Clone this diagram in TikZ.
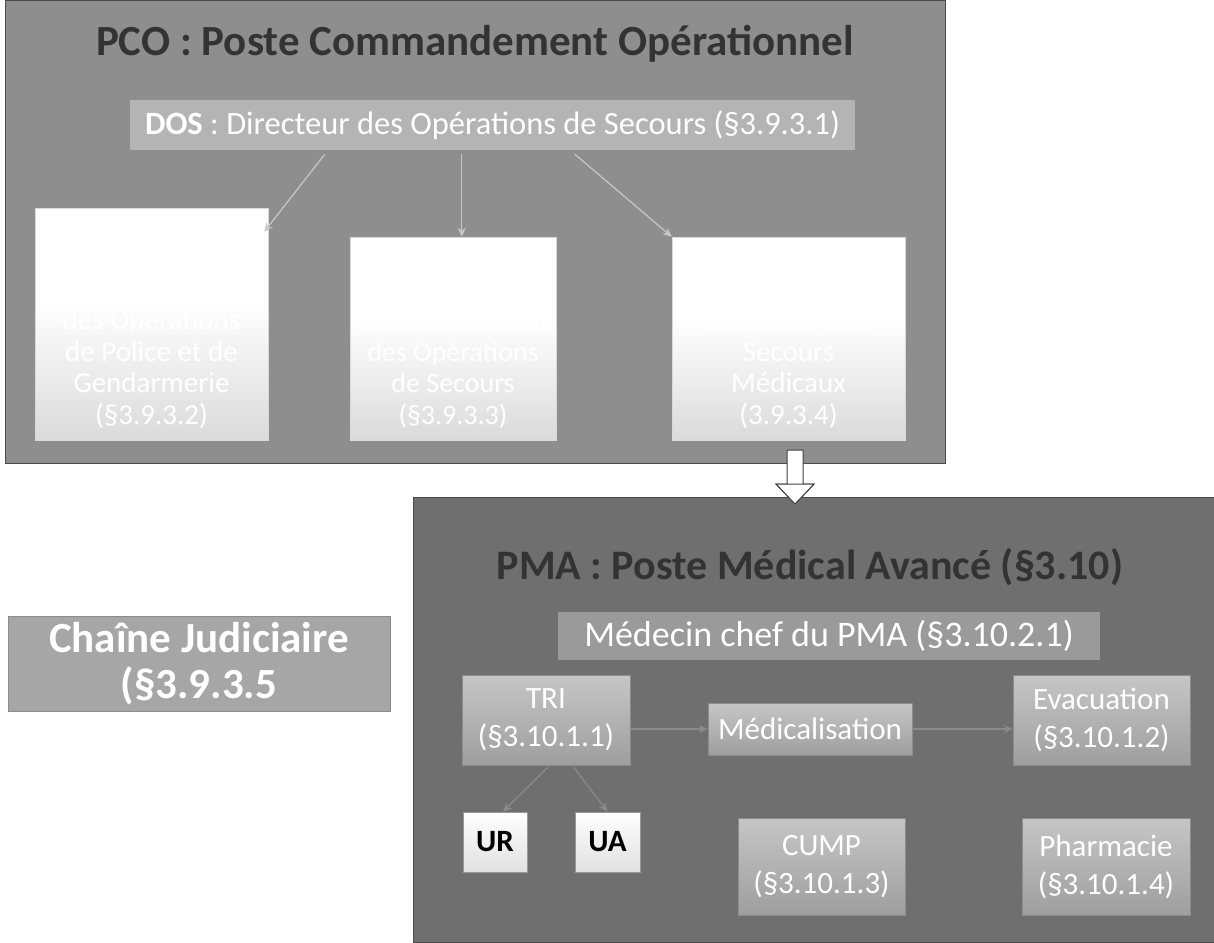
\documentclass[tikz,border=0pt]{standalone}
\usepackage{fontspec}
\setmainfont{Carlito}
\usetikzlibrary{calc,arrows.meta}
\definecolor{pcobg}{HTML}{8E8E8E}
\definecolor{pmabg}{HTML}{6F6F6F}
\definecolor{titlecol}{HTML}{333333}
\definecolor{dosbar}{HTML}{B4B4B4}
\definecolor{chefbar}{HTML}{9A9A9A}
\definecolor{subtop}{HTML}{C6C6C6}
\definecolor{subbot}{HTML}{9E9E9E}
\definecolor{whbot}{HTML}{DADADA}
\definecolor{chaine}{HTML}{A6A6A6}
\definecolor{thin}{HTML}{C8C8C8}
\definecolor{thindark}{HTML}{8A8A8A}
\pgfdeclareverticalshading{wboxshade}{100bp}{color(0bp)=(whbot); color(25bp)=(whbot); color(38bp)=(whbot!55!white); color(55bp)=(white); color(100bp)=(white)}
\newcommand{\fsz}[2]{\fontsize{#1}{#2}\selectfont}
\tikzset{
  panel/.style={rectangle, inner sep=0pt, draw=black!70, line width=0.8pt},
  bar/.style={rectangle, inner sep=0pt, text=white},
  whitebox/.style={rectangle, inner sep=0pt, shading=wboxshade, draw=white!85!black, line width=0.5pt},
  subbox/.style={rectangle, inner sep=0pt, top color=subtop, bottom color=subbot, draw=black!45, line width=0.5pt, text=white, align=center, font=\fsz{31}{38}},
  unitbox/.style={rectangle, inner sep=0pt, top color=white, bottom color=white!88!black, draw=black!40, line width=0.5pt, text=black, font=\fsz{31}{34}\bfseries},
  boxtext/.style={inner sep=0pt, text=white, align=center, font=\fsz{29}{31.5}},
  thinarrow/.style={draw=thin, line width=1.2pt, -{Stealth[length=9pt,width=8pt]}},
  darkarrow/.style={draw=thindark, line width=1.2pt, -{Stealth[length=9pt,width=8pt]}},
  title/.style={inner sep=0pt, text=titlecol, font=\fsz{43}{48}\bfseries}
}
\begin{document}
\begin{tikzpicture}[x=1pt,y=-1pt]
\useasboundingbox[fill=white] (0,0) rectangle (1214,942);

% ---------- PCO ----------
\node[panel, fill=pcobg, minimum width=940pt, minimum height=463pt] (pco) at (475.5,232) {};
\node[title] (pcotitle) at (475,44) {PCO : Poste Commandement Opérationnel};
\node[bar, fill=dosbar, minimum width=725pt, minimum height=50pt, font=\fsz{32.5}{36}] (dos) at (492.5,125)
  {\textbf{DOS} : Directeur des Opérations de Secours (§3.9.3.1)};

\node[whitebox, minimum width=233pt, minimum height=232pt] (copg) at (151.5,324) {};
\node[whitebox, minimum width=206pt, minimum height=203pt] (cos) at (453,338.5) {};
\node[whitebox, minimum width=233pt, minimum height=203pt] (dsm) at (788.5,338.5) {};

\node[boxtext, anchor=south] (copgt) at ($(copg.south)+(0,-12)$)
  {COPG :\\Commandant\\des Opérations\\de Police et de\\Gendarmerie\\(§3.9.3.2)};
\node[boxtext, anchor=south, font=\fsz{28}{31.5}] (cost) at ($(cos.south)+(0,-12)$)
  {COS :\\Commandement\\des Opérations\\de Secours\\(§3.9.3.3)};
\node[boxtext, anchor=south] (dsmt) at ($(dsm.south)+(0,-12)$)
  {DSM :\\Directeur des\\Secours\\Médicaux\\(3.9.3.4)};

\coordinate (d1) at ($(dos.south west)+(195,4)$);
\coordinate (d2) at ($(dos.south west)+(332,4)$);
\coordinate (d3) at ($(dos.south west)+(445,4)$);
\draw[thinarrow] (d1) -- ($(copg.north east)+(-4,24)$);
\draw[thinarrow] (d2) -- (d2 |- cos.north);
\draw[thinarrow] (d3) -- (dsm.north west);

% ---------- big hollow arrow ----------
\coordinate (ha) at (795,450);
\draw[black!75, line width=1pt, fill=white]
  ($(ha)+(-8,0)$) -- ($(ha)+(8,0)$) -- ($(ha)+(8,34)$) -- ($(ha)+(19,34)$) -- ($(ha)+(0,54)$)
  -- ($(ha)+(-19,34)$) -- ($(ha)+(-8,34)$) -- cycle;

% ---------- PMA ----------
\node[panel, fill=pmabg, minimum width=801pt, minimum height=445pt] (pma) at (813.5,719.5) {};
\draw[black!75, line width=1pt, fill=white]
  ($(ha)+(19,34)$) -- ($(ha)+(0,54)$) -- ($(ha)+(-19,34)$) -- cycle;
\node[title, font=\fsz{42}{47}\bfseries] (pmatitle) at (810,567) {PMA : Poste Médical Avancé (§3.10)};
\node[bar, fill=chefbar, minimum width=542pt, minimum height=48pt, font=\fsz{36}{40}] (chef) at (829,636)
  {Médecin chef du PMA (§3.10.2.1)};

\node[subbox, minimum width=168pt, minimum height=90pt] (tri) at (546,720) {TRI\\(§3.10.1.1)};
\node[subbox, minimum width=204pt, minimum height=52pt] (medic) at (810,729) {Médicalisation};
\node[subbox, minimum width=177pt, minimum height=90pt] (evac) at (1101.5,720) {Evacuation\\(§3.10.1.2)};
\node[unitbox, minimum width=64pt, minimum height=60pt] (ur) at (495,842) {UR};
\node[unitbox, minimum width=65pt, minimum height=60pt] (ua) at (607.5,842) {UA};
\node[subbox, minimum width=167pt, minimum height=97pt] (cump) at (821.5,866.5) {CUMP\\(§3.10.1.3)};
\node[subbox, minimum width=168pt, minimum height=97pt] (pharm) at (1106,866.5) {Pharmacie\\(§3.10.1.4)};

\draw[darkarrow] (tri.east |- medic.west) -- (medic.west);
\draw[darkarrow] (medic.east) -- (evac.west |- medic.east);
\coordinate (t1) at ($(tri.south west)+(86,2)$);
\coordinate (t2) at ($(tri.south west)+(112,2)$);
\draw[darkarrow] (t1) -- ($(ur.north)+(8,0)$);
\draw[darkarrow] (t2) -- ($(ua.north)+(0,0)$);

% ---------- Chaîne judiciaire ----------
\node[rectangle, inner sep=0pt, fill=chaine, draw=black!45, line width=0.5pt, minimum width=382pt, minimum height=95pt,
  text=white, align=center, font=\fsz{43}{46}\bfseries] (chainej) at (199,664) {Chaîne Judiciaire\\(§3.9.3.5};
\end{tikzpicture}
\end{document}
